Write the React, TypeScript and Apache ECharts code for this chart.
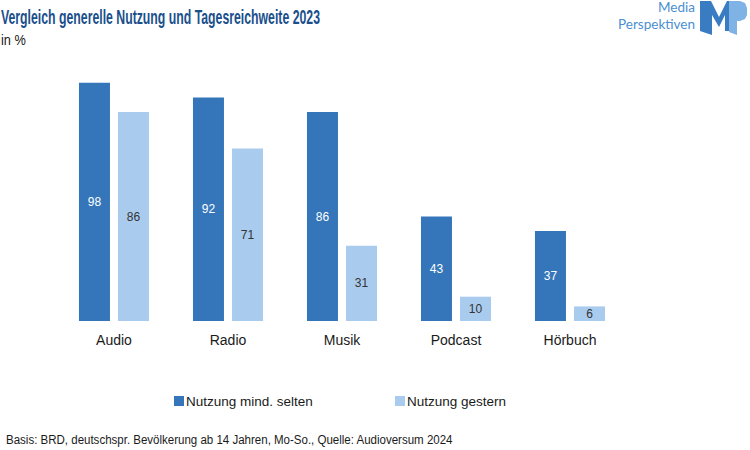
import React, { useEffect, useRef } from "react";
import * as echarts from "echarts";

const categories = ["Audio", "Radio", "Musik", "Podcast", "Hörbuch"];
const seriesNames = ["Nutzung mind. selten", "Nutzung gestern"];
const nutzungMindSelten = [98, 92, 86, 43, 37];
const nutzungGestern = [86, 71, 31, 10, 6];

const FONT = "'Liberation Sans', Arial, sans-serif";
const LOGO_FONT = "Lato, 'Open Sans', sans-serif";

export default function App() {
  const ref = useRef<HTMLDivElement>(null);
  useEffect(() => {
    if (!ref.current) return;
    const chart = echarts.init(ref.current, null, { renderer: "svg" });
    chart.setOption({
      animation: false,
      backgroundColor: "#ffffff",
      textStyle: { fontFamily: FONT },
      grid: { left: 57, right: 123, top: 78, bottom: 129 },
      xAxis: {
        type: "category",
        data: categories,
        axisLine: { show: false },
        axisTick: { show: false },
        axisLabel: { color: "#1a1a1a", fontSize: 14, fontFamily: FONT, margin: 12 },
      },
      yAxis: { type: "value", min: 0, max: 100, show: false, splitLine: { show: false } },
      legend: [
        {
          data: [seriesNames[0]],
          left: 169,
          top: 389,
          itemWidth: 10,
          itemHeight: 10,
          itemGap: 0,
          icon: "rect",
          textStyle: { fontSize: 13.5, color: "#1a1a1a", fontFamily: FONT, padding: [0, 0, 0, -3] },
        },
        {
          data: [seriesNames[1]],
          left: 390,
          top: 389,
          itemWidth: 10,
          itemHeight: 10,
          itemGap: 0,
          icon: "rect",
          textStyle: { fontSize: 13.5, color: "#1a1a1a", fontFamily: FONT, padding: [0, 0, 0, -3] },
        },
      ],
      series: [
        {
          name: seriesNames[0],
          type: "bar",
          data: nutzungMindSelten,
          barWidth: 31,
          barGap: "26%",
          itemStyle: { color: "#3476b9" },
          label: { show: true, position: "inside", color: "#ffffff", fontSize: 12, fontFamily: FONT },
        },
        {
          name: seriesNames[1],
          type: "bar",
          data: nutzungGestern,
          barWidth: 31,
          itemStyle: { color: "#a9cbee" },
          label: { show: true, position: "inside", color: "#333333", fontSize: 12, fontFamily: FONT },
        },
      ],
      graphic: [
        {
          type: "text",
          x: 1,
          y: 7,
          scaleX: 0.63,
          style: {
            text: "Vergleich generelle Nutzung und Tagesreichweite 2023",
            fontSize: 19.5,
            fontWeight: "bold",
            fill: "#1b4f8c",
            fontFamily: FONT,
          },
        },
        {
          type: "text",
          x: 1,
          y: 32,
          scaleX: 0.85,
          style: { text: "in %", fontSize: 15, fill: "#1a1a1a", fontFamily: FONT },
        },
        {
          type: "text",
          x: 6,
          y: 433,
          scaleX: 0.96,
          style: {
            text: "Basis: BRD, deutschspr. Bevölkerung ab 14 Jahren, Mo-So., Quelle: Audioversum 2024",
            fontSize: 12,
            fill: "#1a1a1a",
            fontFamily: FONT,
          },
        },
        {
          type: "text",
          x: 695,
          y: -1,
          style: {
            text: "Media\nPerspektiven",
            fontSize: 13.5,
            lineHeight: 16.5,
            fill: "#4a8fd0",
            align: "right",
            verticalAlign: "top",
            fontFamily: LOGO_FONT,
          },
        },
        {
          type: "polygon",
          shape: {
            points: [
              [700, 1], [711, 1], [719, 17], [727, 1], [731, 1], [731, 31],
              [725, 31], [725, 15], [719, 27], [712, 15], [712, 35], [700, 31],
            ],
          },
          style: { fill: "#3a7cc2" },
        },
        {
          type: "polygon",
          shape: {
            points: [
              [729, 1], [740, 1], [745, 3], [747, 8], [747, 15], [745, 19],
              [740, 21], [737, 21], [737, 35], [729, 32],
            ],
          },
          style: { fill: "#7fb2e5" },
        },
      ],
    });
    return () => chart.dispose();
  }, []);
  return <div ref={ref} style={{ width: 750, height: 450, position: "absolute", left: 0, top: 0 }} />;
}
